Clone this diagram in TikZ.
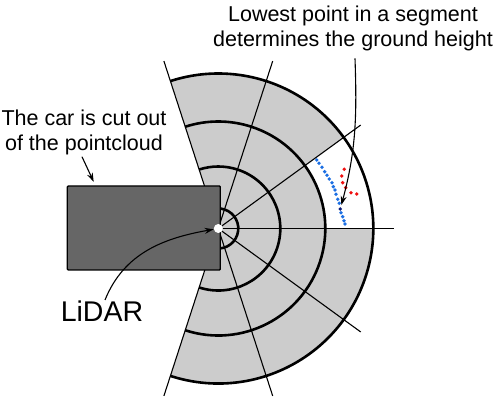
\documentclass[tikz,border=0pt]{standalone}
\usepackage{fontspec}
\setmainfont{Liberation Sans}
\usetikzlibrary{arrows.meta,positioning,calc}
\definecolor{sectorgray}{HTML}{CCCCCC}
\definecolor{cargray}{HTML}{666666}
\definecolor{cloudblue}{HTML}{1C6FE3}
\definecolor{lowblue}{HTML}{0A1A7A}
\definecolor{cloudred}{HTML}{F01010}
\begin{document}
\begin{tikzpicture}[x=1pt,y=1pt,
  ring/.style={line width=2.6pt},
  ray/.style={line width=1.1pt},
  note/.style={align=center,inner sep=0pt,font=\fontsize{21.5}{25}\selectfont},
  cloudpt/.style={circle,inner sep=0pt,minimum size=3.8pt},
  carbox/.style={draw,line width=1.3pt,fill=cargray,rounded corners=1pt,minimum width=153pt,minimum height=84pt},
  arr/.style={-{Stealth[length=9pt,width=6pt]},line width=1.1pt}]
\useasboundingbox (-218.3,-172.5) rectangle (279.7,228.5);
\fill[sectorgray] (0,0) -- (-108:155pt) arc[start angle=-108,end angle=108,radius=155pt] -- cycle;
\fill[white] (0:107pt) -- (0:155pt) arc[start angle=0,end angle=36,radius=155pt] -- (36:107pt) arc[start angle=36,end angle=0,radius=107pt] -- cycle;
\foreach \a in {-108,-72,...,108} \draw[ray] (0,0) -- (\a:176pt);
\foreach \r in {20,62,107,155} \draw[ring] (-108:\r pt) arc[start angle=-108,end angle=108,radius=\r pt];
\node[carbox,anchor=east] (car) at (2.7,0.5) {};
\node[circle,fill=white,inner sep=0pt,minimum size=9pt] (lidar) at (0,0) {};
\foreach \p in {(98.4,68.5),(100.7,65.2),(103.7,61.2),(106.4,56.8),(108.7,53.2),(111,49.5),(113.7,45.8),(115,41.8),(116.7,38.5),(117.7,34.2),(119.4,29.2),(121,25.2),(122.7,15.8),(124.4,11.8),(125.7,7.8),(126.7,4.5)}
  \node[cloudpt,fill=cloudblue] at \p {};
\foreach \p in {(126,59.2),(123.4,52.5),(124.4,45.8),(127.4,40.8),(132.7,35.8),(138.4,34.5)}
  \node[cloudpt,fill=cloudred] at \p {};
\node[cloudpt,fill=lowblue] (low) at (122,19.5) {};
\node[note,anchor=north] (ground) at (134.7,222.5) {Lowest point in a segment\\determines the ground height};
\node[note,anchor=north] (cutout) at (-134.3,119.2) {The car is cut out\\of the pointcloud};
\node[font=\fontsize{28.5}{33}\selectfont,inner sep=1pt,anchor=north] (lidartext) at (-116.3,-71.5) {LiDAR};
\draw[arr,shorten >=2pt] ([shift={(2pt,-7pt)}]ground.south) to[out=-88,in=75] (low);
\draw[arr] ([xshift=-2pt,yshift=-2pt]cutout.south) -- ([xshift=27pt,yshift=3.5pt]car.north west);
\draw[arr] ([xshift=3pt]lidartext.north) to[out=68,in=190] (lidar);
\end{tikzpicture}
\end{document}
